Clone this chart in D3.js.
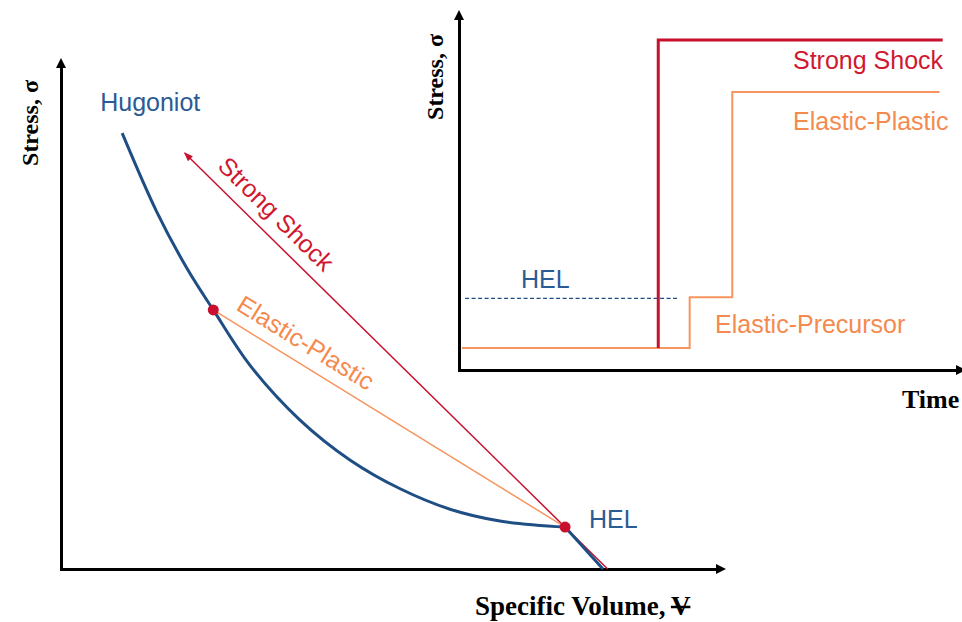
<!DOCTYPE html>
<html>
<head>
<meta charset="utf-8">
<script src="https://cdn.jsdelivr.net/npm/d3@7/dist/d3.min.js"></script>
<style>
  html, body { margin: 0; padding: 0; background: #fff; }
  svg { display: block; }
  .lbl { font-family: "Liberation Sans", Arial, sans-serif; font-size: 25px; }
  .ax  { font-family: "Liberation Serif", "Times New Roman", serif; font-weight: bold; }
</style>
</head>
<body>
<svg id="chart" width="962" height="622"></svg>
<script>
// ---- Stress vs. specific volume (normalised units) ----
// Plastic branch of the Hugoniot, from the compressed end down to the HEL
const hugoniotVolume = [0.92, 1.44, 1.90, 2.29, 2.84, 3.59, 4.35, 5.10, 5.85, 6.60, 7.58];
const hugoniotStress = [8.53, 6.99, 5.87, 5.07, 3.99, 2.92, 2.13, 1.57, 1.17, 0.94, 0.82];
// Elastic branch: HEL down to the ambient state
const elasticVolume = [7.58, 8.15];
const elasticStress = [0.82, 0.00];
// Marked states: elastic-plastic end state and the HEL
const stateVolume = [2.29, 7.58];
const stateStress = [5.07, 0.82];
// Rayleigh lines
const strongShockVolume = [8.22, 1.86];
const strongShockStress = [0.00, 8.14];
const elasticPlasticVolume = [7.58, 2.29];
const elasticPlasticStress = [0.82, 5.07];

// ---- Stress vs. time profiles ----
const strongTime = [3.93, 9.54];
const strongProfile = [0.61, 9.17];
const epTime = [0.06, 4.55, 5.39, 9.48];
const epProfile = [0.61, 2.02, 7.72, 7.72];
const helTime = [0.12, 4.35];
const helLevel = 1.99;

const BLUE = "#1f4e85", BLUE_TXT = "#2b5b95", RED = "#c8102e", RED_TXT = "#d0182f",
      ORANGE = "#f58a4f", ORANGE_LINE = "#f6955f";

const svg = d3.select("#chart");
const zip = (xs, ys) => xs.map((v, i) => [v, ys[i]]);

// ================= main diagram =================
const x = d3.scaleLinear().domain([0, 10]).range([61, 726]);
const y = d3.scaleLinear().domain([0, 10]).range([569, 58]);
const main = svg.append("g");

function arrowAxes(g, xs, ys) {
  const [x0, x1] = xs.range(), [y0, y1] = ys.range();
  g.append("g").attr("transform", `translate(0,${y0})`)
    .call(d3.axisBottom(xs.copy().range([x0 - 1.5, x1 - 6])).tickValues([]).tickSizeOuter(0))
    .select(".domain").attr("stroke", "#000").attr("stroke-width", 3);
  g.append("g").attr("transform", `translate(${x0},0)`)
    .call(d3.axisLeft(ys.copy().range([y0 + 1.5, y1 + 6])).tickValues([]).tickSizeOuter(0))
    .select(".domain").attr("stroke", "#000").attr("stroke-width", 3);
  // arrow heads
  g.append("path").attr("fill", "#000")
    .attr("d", `M${x1},${y0} L${x1 - 10},${y0 - 5} L${x1 - 10},${y0 + 5} Z`);
  g.append("path").attr("fill", "#000")
    .attr("d", `M${x0},${y1} L${x0 - 5},${y1 + 10} L${x0 + 5},${y1 + 10} Z`);
}
arrowAxes(main, x, y);

const line = d3.line().x(d => x(d[0])).y(d => y(d[1]));

// strong shock Rayleigh line with arrow head
const ss = zip(strongShockVolume, strongShockStress);
main.append("path").attr("d", line(ss)).attr("fill", "none")
  .attr("stroke", RED).attr("stroke-width", 1.5);
{
  const tip = [x(ss[1][0]), y(ss[1][1])], from = [x(ss[0][0]), y(ss[0][1])];
  const ang = Math.atan2(tip[1] - from[1], tip[0] - from[0]);
  main.append("path").attr("fill", RED)
    .attr("transform", `translate(${tip[0]},${tip[1]}) rotate(${ang * 180 / Math.PI})`)
    .attr("d", "M1,0 L-8,-3.5 L-8,3.5 Z");
}
// elastic-plastic Rayleigh line
main.append("path").attr("d", line(zip(elasticPlasticVolume, elasticPlasticStress)))
  .attr("fill", "none").attr("stroke", ORANGE_LINE).attr("stroke-width", 1.5);

// Hugoniot
main.append("path")
  .attr("d", d3.line().x(d => x(d[0])).y(d => y(d[1])).curve(d3.curveCatmullRom.alpha(0.5))(zip(hugoniotVolume, hugoniotStress)))
  .attr("fill", "none").attr("stroke", BLUE).attr("stroke-width", 3);
main.append("path").attr("d", line(zip(elasticVolume, elasticStress)))
  .attr("fill", "none").attr("stroke", BLUE).attr("stroke-width", 3);

// states
main.selectAll("circle.state").data(zip(stateVolume, stateStress)).join("circle")
  .attr("class", "state").attr("cx", d => x(d[0])).attr("cy", d => y(d[1]))
  .attr("r", 5.5).attr("fill", RED);

// labels lying along a line: distance from start point, offset above the line
function alongLabel(p0, p1, dist, text, color) {
  const a = [x(p0[0]), y(p0[1])], b = [x(p1[0]), y(p1[1])];
  const len = Math.hypot(b[0] - a[0], b[1] - a[1]);
  const ux = (b[0] - a[0]) / len, uy = (b[1] - a[1]) / len;
  let ang = Math.atan2(uy, ux) * 180 / Math.PI;
  if (ang > 90 || ang < -90) ang += 180;
  main.append("text").attr("class", "lbl").attr("fill", color)
    .attr("text-anchor", "middle")
    .attr("transform", `translate(${a[0] + ux * dist},${a[1] + uy * dist}) rotate(${ang})`)
    .attr("dy", -12).text(text);
}
alongLabel(ss[1], ss[0], 108, "Strong Shock", RED_TXT);
alongLabel([elasticPlasticVolume[1], elasticPlasticStress[1]], [elasticPlasticVolume[0], elasticPlasticStress[0]], 96, "Elastic-Plastic", ORANGE);

main.append("text").attr("class", "lbl").attr("fill", BLUE_TXT)
  .attr("x", x(hugoniotVolume[0]) - 22).attr("y", y(hugoniotStress[0]) - 22).text("Hugoniot");
main.append("text").attr("class", "lbl").attr("fill", BLUE_TXT)
  .attr("x", x(stateVolume[1]) + 24).attr("y", y(stateStress[1]) + 1).text("HEL");

// axis titles
main.append("text").attr("class", "ax").attr("font-size", 24)
  .attr("text-anchor", "middle").attr("transform", "translate(38,123) rotate(-90)")
  .text("Stress, σ");
const XFS = 27;
const xt = main.append("text").attr("class", "ax").attr("font-size", XFS)
  .attr("x", 475).attr("y", 615).text("Specific Volume,");
const vx = 475 + xt.node().getComputedTextLength() + XFS * 0.2;
const vt = main.append("text").attr("class", "ax").attr("font-size", XFS)
  .attr("x", vx).attr("y", 615).text("V");
const vw = vt.node().getComputedTextLength();
main.append("line").attr("x1", vx).attr("x2", vx + vw)
  .attr("y1", 607).attr("y2", 607).attr("stroke", "#000").attr("stroke-width", 2.5);

// ================= inset: stress histories =================
const tx = d3.scaleLinear().domain([0, 10]).range([459, 966]);
const ty = d3.scaleLinear().domain([0, 10]).range([370, 10]);
const inset = svg.append("g");
arrowAxes(inset, tx, ty);

const tline = d3.line().x(d => tx(d[0])).y(d => ty(d[1]));
inset.append("path").attr("d", tline([[helTime[0], helLevel], [helTime[1], helLevel]]))
  .attr("fill", "none").attr("stroke", BLUE).attr("stroke-width", 1.3)
  .attr("stroke-dasharray", "4,2.5");
inset.append("path").attr("d", tline.curve(d3.curveStepAfter)(zip(epTime, epProfile)))
  .attr("fill", "none").attr("stroke", ORANGE_LINE).attr("stroke-width", 2);
inset.append("path").attr("d", tline.curve(d3.curveStepBefore)(zip(strongTime, strongProfile)))
  .attr("fill", "none").attr("stroke", RED).attr("stroke-width", 3);

inset.append("text").attr("class", "lbl").attr("fill", RED_TXT)
  .attr("x", 793).attr("y", ty(strongProfile[1]) + 29).text("Strong Shock");
inset.append("text").attr("class", "lbl").attr("fill", ORANGE)
  .attr("x", 793).attr("y", ty(epProfile[3]) + 38).text("Elastic-Plastic");
inset.append("text").attr("class", "lbl").attr("fill", BLUE_TXT)
  .attr("x", 521).attr("y", ty(helLevel) - 10).text("HEL");
inset.append("text").attr("class", "lbl").attr("fill", ORANGE)
  .attr("x", 715).attr("y", 333).text("Elastic-Precursor");

inset.append("text").attr("class", "ax").attr("font-size", 24)
  .attr("text-anchor", "middle").attr("transform", "translate(443,77) rotate(-90)")
  .text("Stress, σ");
inset.append("text").attr("class", "ax").attr("font-size", 26)
  .attr("x", 902).attr("y", 408).text("Time");
</script>
</body>
</html>
